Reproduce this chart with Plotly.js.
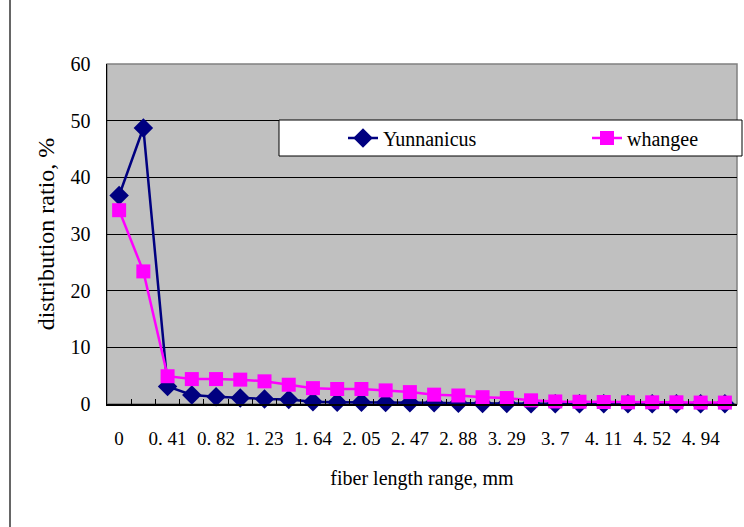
<!DOCTYPE html>
<html>
<head>
<meta charset="utf-8">
<script src="https://cdn.plot.ly/plotly-3.0.1.min.js"></script>
<style>html,body{margin:0;padding:0;background:#fff;}#chart{width:744px;height:527px;}</style>
</head>
<body>
<div id="chart"></div>
<script>
// fiber length categories (mm)
var lengthCats = ["0","0.21","0.41","0.62","0.82","1.03","1.23","1.44","1.64","1.85","2.05","2.26","2.47","2.67","2.88","3.08","3.29","3.5","3.7","3.91","4.11","4.32","4.52","4.73","4.94","5.14"];
// labels shown on axis (every other category)
var tickLabels = ["0","","0. 41","","0. 82","","1. 23","","1. 64","","2. 05","","2. 47","","2. 88","","3. 29","","3. 7","","4. 11","","4. 52","","4. 94",""];
var yunnanicus = [36.8,48.7,3.1,1.6,1.3,1.05,0.9,0.8,0.4,0.3,0.3,0.25,0.2,0.2,0.15,0.1,0.1,0.05,0.05,0.05,0.05,0.05,0.05,0.05,0.05,0.05];
var whangee = [34.2,23.4,4.9,4.4,4.4,4.3,4.0,3.4,2.8,2.65,2.65,2.4,2.1,1.65,1.5,1.2,1.05,0.65,0.45,0.4,0.35,0.3,0.3,0.3,0.25,0.25];

var font = "'Liberation Serif', 'Times New Roman', serif";

var traces = [
  {x: lengthCats, y: yunnanicus, name: "Yunnanicus", type: "scatter", mode: "lines+markers",
   legend: "legend", cliponaxis: false,
   line: {color: "#000080", width: 2.5}, marker: {symbol: "diamond", size: 15, color: "#000080"}},
  {x: lengthCats, y: whangee, name: "whangee", type: "scatter", mode: "lines+markers",
   legend: "legend2", cliponaxis: false,
   line: {color: "#FF00FF", width: 2.5}, marker: {symbol: "square", size: 14, color: "#FF00FF"}}
];

var legY = (404 - 138) / 340;
var layout = {
  width: 744, height: 527,
  margin: {l: 107, r: 7, t: 64, b: 123},
  paper_bgcolor: "#ffffff",
  plot_bgcolor: "#C0C0C0",
  font: {family: font, size: 18, color: "#000"},
  showlegend: true,
  legend: {orientation: "h", x: (343 - 107) / 630, y: legY, xanchor: "left", yanchor: "middle",
           bgcolor: "rgba(0,0,0,0)", borderwidth: 0, font: {family: font, size: 20}},
  legend2: {orientation: "h", x: (587 - 107) / 630, y: legY, xanchor: "left", yanchor: "middle",
           bgcolor: "rgba(0,0,0,0)", borderwidth: 0, font: {family: font, size: 20}},
  xaxis: {
    type: "category",
    tickvals: lengthCats, ticktext: tickLabels, tickangle: 0,
    tickson: "boundaries", ticks: "inside", ticklen: 5, tickcolor: "#000",
    showgrid: false, showline: true, linecolor: "#000", linewidth: 1.5,
    tickfont: {family: font, size: 19}, ticklabelstandoff: 17,
    zeroline: false, range: [-0.5, 25.5],
    title: {text: "fiber length range, mm", font: {family: font, size: 20}, standoff: 22}
  },
  yaxis: {
    range: [0, 60], dtick: 10, tick0: 0,
    ticks: "inside", ticklen: 5, tickcolor: "#000",
    showgrid: true, gridcolor: "#000", gridwidth: 1,
    showline: true, linecolor: "#000", linewidth: 1.5,
    zeroline: false,
    tickfont: {family: font, size: 20}, ticklabelstandoff: 11,
    title: {text: "distribution ratio, %", font: {family: font, size: 24}, standoff: 9}
  },
  shapes: [
    {type: "rect", xref: "paper", yref: "paper", x0: 0, x1: 1, y0: 0, y1: 1,
     line: {color: "#808080", width: 1.5}, fillcolor: "rgba(0,0,0,0)", layer: "below"},
    {type: "rect", xref: "paper", yref: "paper", x0: (279-107)/630, x1: (742-107)/630,
     y0: (404-156)/340, y1: (404-120)/340, line: {color: "#000", width: 1}, fillcolor: "#ffffff", layer: "above"},
    {type: "line", xref: "paper", yref: "paper", x0: (10-107)/630, x1: (10-107)/630,
     y0: -0.4, y1: 1.25, line: {color: "#333", width: 1.5}}
  ]
};

Plotly.newPlot("chart", traces, layout, {displayModeBar: false, staticPlot: true});
</script>
</body>
</html>
